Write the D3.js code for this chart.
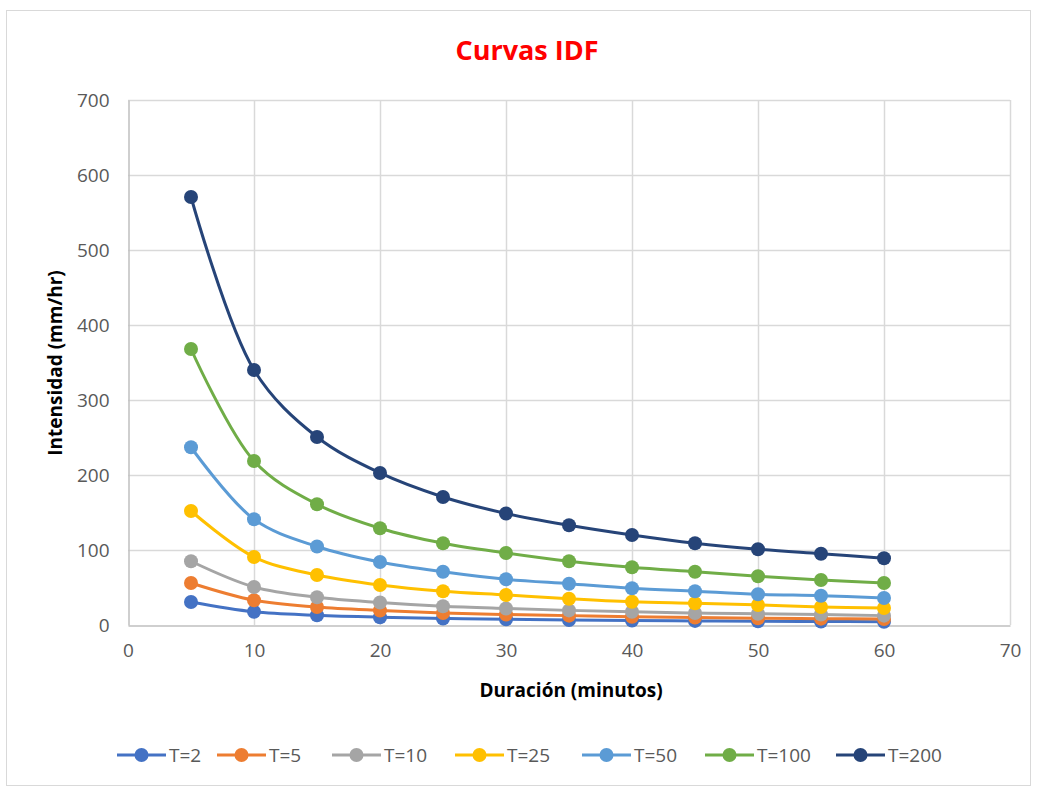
<!DOCTYPE html>
<html>
<head>
<meta charset="utf-8">
<script src="https://cdn.jsdelivr.net/npm/d3@7"></script>
<style>
  html, body { margin: 0; padding: 0; background: #fff; }
  svg { display: block; }
  text { font-family: "Open Sans", "Noto Sans", sans-serif; }
</style>
</head>
<body>
<svg id="chart" width="1038" height="787"></svg>
<script>
// Durations (minutes)
const durations = [5, 10, 15, 20, 25, 30, 35, 40, 45, 50, 55, 60];

// Return periods shown in the legend
const seriesNames = ["T=2", "T=5", "T=10", "T=25", "T=50", "T=100", "T=200"];
const seriesColors = ["#4472C4", "#ED7D31", "#A5A5A5", "#FFC000", "#5B9BD5", "#70AD47", "#264478"];

// Intensity (mm/hr) for each return period
const t2   = [30.7, 17.6, 13.0, 10.4, 8.7, 7.6, 6.7, 6.0, 5.5, 5.0, 4.7, 4.4];
const t5   = [56.0, 33.0, 24.0, 19.4, 16.0, 14.0, 12.5, 11.0, 10.0, 9.0, 8.5, 8.0];
const t10  = [85.0, 50.7, 37.0, 30.0, 25.0, 22.0, 19.5, 17.6, 16.0, 15.0, 14.0, 12.5];
const t25  = [152.0, 90.7, 66.7, 53.3, 45.0, 40.0, 35.0, 31.0, 29.0, 26.7, 24.0, 22.7];
const t50  = [237.0, 141.0, 104.7, 84.0, 71.0, 61.0, 55.0, 49.0, 45.0, 41.0, 39.0, 36.0];
const t100 = [368.0, 218.7, 161.0, 129.0, 109.0, 96.0, 85.0, 77.0, 71.0, 65.0, 60.0, 56.0];
const t200 = [570.7, 340.0, 250.7, 202.7, 170.7, 148.7, 133.0, 120.0, 109.0, 101.0, 95.0, 89.0];

const seriesValues = [t2, t5, t10, t25, t50, t100, t200];

// Axis ticks
const xTicks = [0, 10, 20, 30, 40, 50, 60, 70];
const yTicks = [0, 100, 200, 300, 400, 500, 600, 700];

const svg = d3.select("#chart");

// Outer chart frame
svg.append("rect")
  .attr("x", 6.5).attr("y", 10.5)
  .attr("width", 1024).attr("height", 775)
  .attr("fill", "#fff")
  .attr("stroke", "#d9d9d9").attr("stroke-width", 1);

const plot = { left: 128, right: 1010, top: 100, bottom: 625 };

const x = d3.scaleLinear().domain([0, 70]).range([plot.left, plot.right]);
const y = d3.scaleLinear().domain([0, 700]).range([plot.bottom, plot.top]);

// Gridlines
const grid = svg.append("g");
grid.selectAll("line.h").data(yTicks.filter(d => d > 0)).enter().append("line")
  .attr("x1", plot.left).attr("x2", plot.right)
  .attr("y1", d => Math.round(y(d)) + 0.5).attr("y2", d => Math.round(y(d)) + 0.5)
  .attr("stroke", "#d9d9d9").attr("stroke-width", 1.5);
grid.selectAll("line.v").data(xTicks.filter(d => d > 0)).enter().append("line")
  .attr("y1", plot.top).attr("y2", plot.bottom)
  .attr("x1", d => Math.round(x(d)) + 0.5).attr("x2", d => Math.round(x(d)) + 0.5)
  .attr("stroke", "#d9d9d9").attr("stroke-width", 1.5);

// Axes
const xAxis = d3.axisBottom(x).tickValues(xTicks).tickSize(0).tickPadding(18);
const yAxis = d3.axisLeft(y).tickValues(yTicks).tickSize(0).tickPadding(19);

const gx = svg.append("g").attr("transform", `translate(0,${plot.bottom + 0.5})`).call(xAxis);
const gy = svg.append("g").attr("transform", `translate(${plot.left + 0.5},0)`).call(yAxis);

gx.select(".domain").attr("stroke", "#bfbfbf").attr("stroke-width", 1.5);
gy.select(".domain").attr("stroke", "#bfbfbf").attr("stroke-width", 1.5);
[gx, gy].forEach(g => g.selectAll("text")
  .attr("fill", "#595959").style("font-size", "19px")
  .style("font-family", "'Open Sans', sans-serif"));

// Title
svg.append("text")
  .attr("x", 527).attr("y", 60)
  .attr("text-anchor", "middle")
  .attr("fill", "#ff0000")
  .style("font-size", "27px").style("font-weight", "bold")
  .text("Curvas IDF");

// Axis titles
svg.append("text")
  .attr("x", 571).attr("y", 697)
  .attr("text-anchor", "middle")
  .attr("fill", "#000")
  .style("font-size", "19px").style("font-weight", "bold")
  .text("Duración (minutos)");

svg.append("text")
  .attr("transform", "translate(62,363) rotate(-90)")
  .attr("text-anchor", "middle")
  .attr("fill", "#000")
  .style("font-size", "19px").style("font-weight", "bold")
  .text("Intensidad (mm/hr)");

// Series lines and markers
const line = d3.line()
  .x((d, i) => x(durations[i]))
  .y(d => y(d))
  .curve(d3.curveCatmullRom.alpha(0.5));

const seriesG = svg.append("g");
seriesValues.forEach((vals, k) => {
  const g = seriesG.append("g");
  g.append("path")
    .attr("d", line(vals))
    .attr("fill", "none")
    .attr("stroke", seriesColors[k])
    .attr("stroke-width", 3)
    .attr("stroke-linecap", "round");
  g.selectAll("circle").data(vals).enter().append("circle")
    .attr("cx", (d, i) => x(durations[i]))
    .attr("cy", d => y(d))
    .attr("r", 7)
    .attr("fill", seriesColors[k]);
});

// Legend
const legendX = [117, 217, 332, 455, 582, 705, 836];
const legend = svg.append("g");
seriesNames.forEach((name, k) => {
  const lx = legendX[k], ly = 755;
  legend.append("line")
    .attr("x1", lx).attr("x2", lx + 49)
    .attr("y1", ly).attr("y2", ly)
    .attr("stroke", seriesColors[k]).attr("stroke-width", 3);
  legend.append("circle")
    .attr("cx", lx + 24.5).attr("cy", ly).attr("r", 7)
    .attr("fill", seriesColors[k]);
  legend.append("text")
    .attr("x", lx + 52).attr("y", ly + 7)
    .attr("fill", "#595959")
    .style("font-size", "19px")
    .text(name);
});
</script>
</body>
</html>
